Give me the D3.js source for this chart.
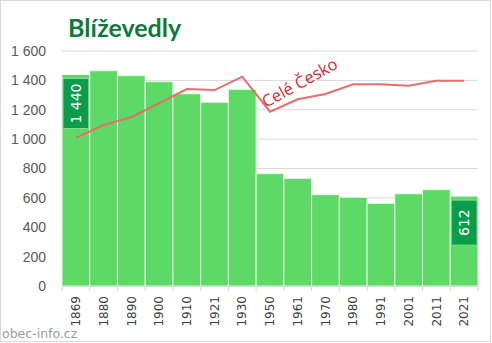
<!DOCTYPE html>
<html>
<head>
<meta charset="utf-8">
<script src="https://cdn.jsdelivr.net/npm/d3@7/dist/d3.min.js"></script>
<style>
  html, body { margin: 0; padding: 0; background: #fff; }
  svg { display: block; }
</style>
</head>
<body>
<script>
// Population of Blíževedly by census year
const years = ["1869","1880","1890","1900","1910","1921","1930","1950","1961","1970","1980","1991","2001","2011","2021"];
const population = [1440, 1466, 1432, 1391, 1309, 1251, 1339, 765, 733, 622, 604, 563, 628, 656, 612];
// Whole-country trend, scaled to the village's scale
const czechia = [1008, 1096, 1150, 1245, 1341, 1334, 1425, 1187, 1271, 1307, 1373, 1373, 1364, 1398, 1398];
const yTicks = [0, 200, 400, 600, 800, 1000, 1200, 1400, 1600];
const title = "Blíževedly";
const lineLabel = "Celé Česko";
const source = "obec-info.cz";

const W = 492, H = 343;
const m = { left: 62, right: 14, top: 51, bottom: 57 };

const svg = d3.select("body").append("svg").attr("width", W).attr("height", H);

// outer frame
svg.append("rect").attr("x", 0.5).attr("y", 0.5).attr("width", W - 2).attr("height", H - 2)
  .attr("fill", "#fff").attr("stroke", "#d9d9d9");

const x = d3.scaleBand().domain(years).range([m.left, W - m.right]).padding(0);
const y = d3.scaleLinear().domain([0, 1600]).range([H - m.bottom, m.top]);

// gridlines
svg.append("g").selectAll("line").data(yTicks.filter(d => d > 0)).join("line")
  .attr("x1", m.left).attr("x2", W - m.right)
  .attr("y1", d => y(d)).attr("y2", d => y(d))
  .attr("stroke", "#d9d9d9").attr("stroke-width", 1);

// y axis labels
const fmt = d => d3.format(",")(d).replace(/,/g, " ");
svg.append("g").selectAll("text").data(yTicks).join("text")
  .attr("x", 46).attr("y", d => y(d)).attr("dy", "0.35em")
  .attr("text-anchor", "end")
  .attr("font-family", "Liberation Sans, Arial, sans-serif").attr("font-size", 14)
  .attr("fill", "#595959")
  .text(fmt);

// bars
svg.append("g").selectAll("rect").data(years).join("rect")
  .attr("x", d => x(d)).attr("width", x.bandwidth())
  .attr("y", (d, i) => y(population[i])).attr("height", (d, i) => y(0) - y(population[i]))
  .attr("fill", "#5dd965").attr("stroke", "#e8f8ea").attr("stroke-width", 1);

// x axis
const xAxis = d3.axisBottom(x).tickSize(0).tickPadding(0);
const gx = svg.append("g").attr("transform", `translate(0,${y(0)})`).call(xAxis);
gx.select(".domain").attr("stroke", "#d9d9d9");
gx.selectAll(".tick text")
  .attr("transform", "rotate(-90)")
  .attr("x", -10).attr("y", 0).attr("dy", "0.35em")
  .attr("text-anchor", "end")
  .attr("font-family", "DejaVu Sans, sans-serif").attr("font-size", 12)
  .attr("fill", "#404040");
// category boundary ticks
svg.append("g").selectAll("line").data(years.concat(["end"])).join("line")
  .attr("x1", (d, i) => m.left + i * x.bandwidth()).attr("x2", (d, i) => m.left + i * x.bandwidth())
  .attr("y1", y(0)).attr("y2", y(0) + 5)
  .attr("stroke", "#d9d9d9");

// country line
const line = d3.line().x((d, i) => x(years[i]) + x.bandwidth() / 2).y(d => y(d));
svg.append("path").datum(czechia).attr("d", line)
  .attr("fill", "none").attr("stroke", "#ee6b6b").attr("stroke-width", 2);

// line label
svg.append("text")
  .attr("transform", "translate(266,108) rotate(-29)")
  .attr("font-family", "Open Sans, sans-serif").attr("font-size", 16.5)
  .attr("fill", "#e41e26")
  .text(lineLabel);

// value badges on first and last bars
function badge(i) {
  const bx = x(years[i]) + 1, bw = x.bandwidth() - 2;
  const top = y(population[i]) + 4;
  const bh = i === 0 ? 50 : 45;
  svg.append("rect").attr("x", bx).attr("y", top).attr("width", bw).attr("height", bh)
    .attr("fill", "#0c9d4b").attr("stroke", "#8fe49a").attr("stroke-width", 0.8);
  svg.append("text")
    .attr("transform", `translate(${bx + bw / 2},${top + bh / 2}) rotate(-90)`)
    .attr("text-anchor", "middle").attr("dy", "0.36em")
    .attr("font-family", "DejaVu Sans, sans-serif").attr("font-size", 14)
    .attr("fill", "#fff")
    .text(fmt(population[i]));
}
badge(0);
badge(years.length - 1);

// title
svg.append("text").attr("x", 68).attr("y", 37)
  .attr("font-family", "Lato, sans-serif").attr("font-weight", "bold").attr("font-size", 25)
  .attr("fill", "#0e7a3a")
  .text(title);

// source
svg.append("text").attr("x", 2).attr("y", 338)
  .attr("font-family", "DejaVu Sans, sans-serif").attr("font-size", 12.5)
  .attr("fill", "#9a9a9a")
  .text(source);
</script>
</body>
</html>
